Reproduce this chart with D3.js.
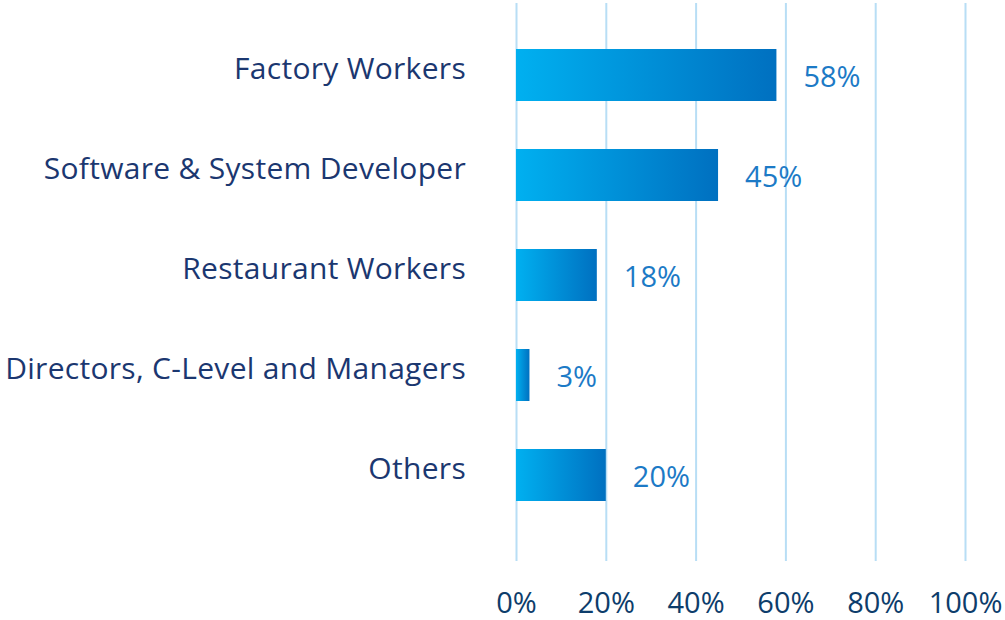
<!DOCTYPE html>
<html>
<head>
<meta charset="utf-8">
<script src="https://cdn.jsdelivr.net/npm/d3@7"></script>
<style>
  body { margin: 0; background: #fff; }
  svg { display: block; font-family: "Open Sans", sans-serif; }
</style>
</head>
<body>
<svg id="chart" width="1005" height="620"></svg>
<script>
const categories = ["Factory Workers", "Software & System Developer", "Restaurant Workers", "Directors, C-Level and Managers", "Others"];
const values = [58, 45, 18, 3, 20];
const tickValues = [0, 20, 40, 60, 80, 100];

const svg = d3.select('#chart');

// horizontal blue gradient for the bars
const grad = svg.append('defs').append('linearGradient')
  .attr('id', 'barGrad')
  .attr('x1', '0%').attr('x2', '100%')
  .attr('y1', '0%').attr('y2', '0%');
grad.append('stop').attr('offset', '0%').attr('stop-color', '#00b0f0');
grad.append('stop').attr('offset', '100%').attr('stop-color', '#0070c0');

const x = d3.scaleLinear()
  .domain([0, 100])
  .range([516, 965]);
const y = d3.scaleBand()
  .domain(categories)
  .range([25, 525])
  .paddingInner(0.48)
  .paddingOuter(0.24);

// gridlines + bottom labels
const xAxis = g => g
  .attr('transform', 'translate(0,561)')
  .call(d3.axisBottom(x).tickValues(tickValues).tickSize(-558).tickFormat(d => d + '%'))
  .call(g => g.select('.domain').remove())
  .call(g => g.selectAll('.tick line')
    .attr('stroke', '#b8def5')
    .attr('stroke-width', 2))
  .call(g => g.selectAll('.tick text')
    .attr('y', 52)
    .attr('dy', 0)
    .attr('fill', '#0d3d6b')
    .attr('font-size', 29)
    .attr('font-family', '"Open Sans", sans-serif'));

svg.append('g').call(xAxis);

svg.append('g')
  .selectAll('rect')
  .data(values)
  .join('rect')
    .attr('x', x(0))
    .attr('y', (d, i) => y(categories[i]))
    .attr('width', d => x(d) - x(0))
    .attr('height', y.bandwidth())
    .attr('fill', 'url(#barGrad)');

// category names on the left
svg.append('g')
  .selectAll('text')
  .data(categories)
  .join('text')
    .attr('x', 466)
    .attr('y', d => y(d) + y.bandwidth() / 2)
    .attr('dy', '0.14em')
    .attr('text-anchor', 'end')
    .attr('fill', '#1b3770')
    .attr('font-size', 30)
    .attr('letter-spacing', 0.3)
    .text(d => d);

// value labels
svg.append('g')
  .selectAll('text')
  .data(values)
  .join('text')
    .attr('x', d => x(d) + 27)
    .attr('y', (d, i) => y(categories[i]) + y.bandwidth() / 2)
    .attr('dy', '0.4em')
    .attr('fill', '#1c7ac6')
    .attr('font-size', 29)
    .text(d => d + '%');
</script>
</body>
</html>
